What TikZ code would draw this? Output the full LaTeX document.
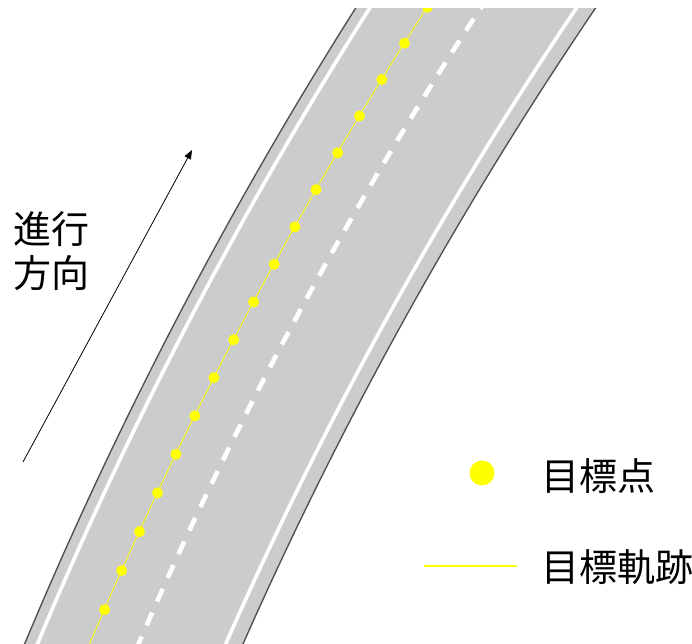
\documentclass[tikz,border=0pt]{standalone}
\usepackage{fontspec}
\newfontfamily\jpfont{Noto Sans CJK JP}
\usetikzlibrary{arrows.meta}
\definecolor{roadgray}{RGB}{204,204,204}
\definecolor{edgegray}{RGB}{80,80,80}
\definecolor{markyellow}{RGB}{255,255,0}
\tikzset{
  roadarc/.style={line cap=butt},
  jplabel/.style={font=\jpfont\fontsize{38}{44}\selectfont, inner sep=0pt, anchor=base west, text=black},
  targetdot/.style={fill=markyellow, draw=none},
  trackline/.style={draw=markyellow, line width=1pt},
  dirarrow/.style={draw=black, line width=0.8pt, -{Triangle[length=9pt,width=7pt]}}
}
\begin{document}
\begin{tikzpicture}[x=1pt,y=1pt]
\useasboundingbox (0,0) rectangle (692,643);
\coordinate (O) at (3957,-1644);
\begin{scope}
  \clip (0,0) rectangle (692,634);
  % road body with dark borders
  \draw[roadarc, edgegray, line width=202pt] (O) ++(145:4161.5pt) arc[start angle=145, end angle=160, radius=4161.5pt];
  \draw[roadarc, roadgray, line width=199pt] (O) ++(145:4161.5pt) arc[start angle=145, end angle=160, radius=4161.5pt];
  % white edge lines
  \draw[roadarc, white, line width=3.6pt] (O) ++(145:4250pt) arc[start angle=145, end angle=160, radius=4250pt];
  \draw[roadarc, white, line width=3.6pt] (O) ++(145:4077pt) arc[start angle=145, end angle=160, radius=4077pt];
  % dashed center line
  \draw[roadarc, white, line width=4.6pt, dash pattern=on 14pt off 12pt] (O) ++(146.57:4157pt) arc[start angle=146.57, end angle=158, radius=4157pt];
  % target track
  \draw[trackline, line width=0.8pt] (O) ++(145:4202pt) arc[start angle=145, end angle=160, radius=4202pt];
  % target points
  \foreach \i in {0,...,16} {
    \pgfmathsetmacro{\ang}{147.14+0.5833*\i}
    \fill[targetdot] (O) ++(\ang:4202pt) circle[radius=5.5pt];
  }
\end{scope}
% direction arrow
\coordinate (arrS) at (23,181);
\coordinate (arrE) at (192,493);
\draw[dirarrow] (arrS) -- (arrE);
\node[jplabel] (dir1) at (13,399) {進行};
\node[jplabel] (dir2) at (13,355) {方向};
% legend
\fill[targetdot] (482,170) circle[radius=12.5pt];
\coordinate (legA) at (424,77);
\coordinate (legB) at (517,77);
\draw[trackline, line width=1.5pt] (legA) -- (legB);
\node[jplabel] (leg1) at (541,153) {目標点};
\node[jplabel] (leg2) at (541,62) {目標軌跡};
\end{tikzpicture}
\end{document}
